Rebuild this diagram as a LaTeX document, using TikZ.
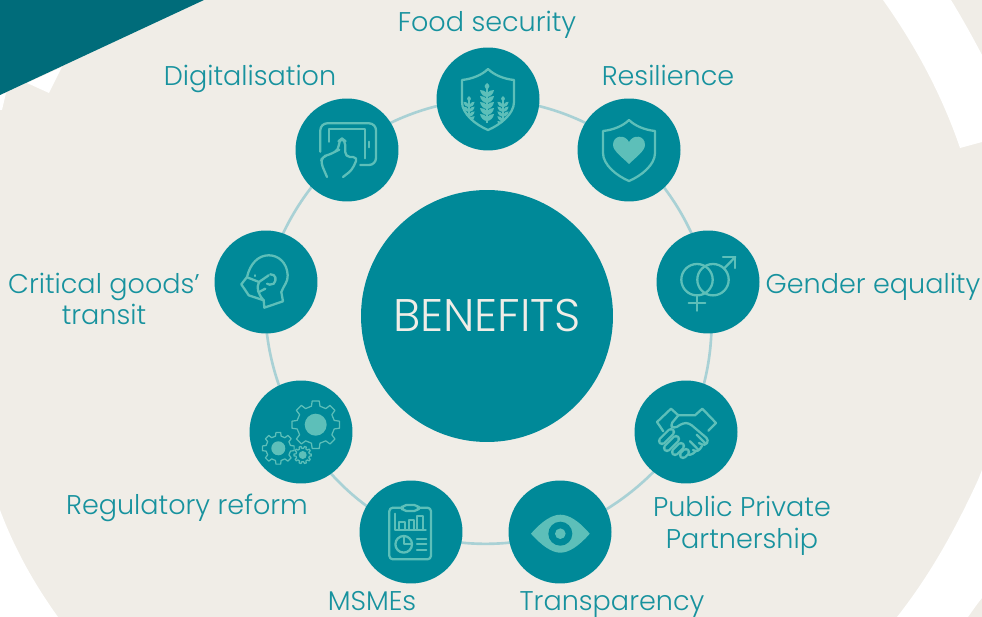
\documentclass[tikz,border=0pt]{standalone}
\usepackage{fontspec}
\setmainfont{Poppins Light}
\usepackage{xcolor}
\usetikzlibrary{backgrounds}
\definecolor{sandbg}{HTML}{F0EDE7}
\definecolor{darkteal}{HTML}{006C7A}
\definecolor{circteal}{HTML}{008998}
\definecolor{iconteal}{HTML}{5DBFB9}
\definecolor{ringteal}{HTML}{A9D1D5}
\definecolor{textteal}{HTML}{17929E}
\tikzset{
  topic/.style={circle,fill=circteal,minimum size=2.06cm,inner sep=0pt},
  hubnode/.style={circle,fill=circteal,minimum size=5.04cm,inner sep=0pt,text=sandbg,font=\fontsize{26}{30}\selectfont},
  tag/.style={text=textteal,align=center,inner sep=0pt,anchor=base,font=\fontsize{15.4}{18.2}\selectfont},
  ringline/.style={draw=ringteal,line width=1.5pt,bend left=18,looseness=.88},
  iconline/.style={draw=iconteal,line width=1.3pt,line join=round,line cap=round},
  gearline/.style={draw=iconteal,line width=.7pt,line join=round},
  wheatear/.pic={
    \draw[iconteal,line width=.6pt] (0,-10) -- (0,24);
    \fill[iconteal] (0,-16) .. controls (3.2,-13) .. (0,-9) .. controls (-3.2,-13) .. (0,-16) -- cycle;
    \foreach \g in {0,...,4}
      \foreach \s in {-1,1}
        \fill[iconteal,shift={(0,\g*6-5)}] (0,3) .. controls (\s*3,3) and (\s*6.5,0) .. (\s*7,-4) .. controls (\s*5,-4) and (\s*1.5,-3.5) .. (0,0) -- cycle;
  }
}
\newcommand{\shieldpath}{(0,-30) .. controls (6,-24) and (16,-20) .. (26,-19) -- (26,3) .. controls (26,15) and (12,26) .. (0,31) .. controls (-12,26) and (-26,15) .. (-26,3) -- (-26,-19) .. controls (-16,-20) and (-6,-24) .. (0,-30) -- cycle}
\newcommand{\gearicon}[6]{
  \draw[gearline,shift={(#1,#2)}] (-#6:#4)
    \foreach \a in {0,#5,...,359} { -- (\a-#6:#4) -- (\a-.65*#6:#3) -- (\a+.65*#6:#3) -- (\a+#6:#4) } -- cycle;
}
\begin{document}
\begin{tikzpicture}[x=0.02cm,y=-0.02cm]
\useasboundingbox (0,0) rectangle (982,617);
% nodes
\node[hubnode] (hub) at (487,316) {BENEFITS};
\node[topic] (food) at (488,99) {};
\node[topic] (resilience) at (629,150) {};
\node[topic] (gender) at (708,282) {};
\node[topic] (partner) at (686,432) {};
\node[topic] (transparency) at (560,532) {};
\node[topic] (msme) at (411,532) {};
\node[topic] (regulatory) at (301,432) {};
\node[topic] (critical) at (266,282) {};
\node[topic] (digital) at (347,150) {};
\begin{scope}[on background layer]
\fill[sandbg] (0,0) rectangle (982,617);
% white bands
\fill[white] (883,0) .. controls (915,45) and (942,95) .. (960,148) -- (982,142) -- (982,55) .. controls (972,36) and (962,18) .. (951,0) -- cycle;
\fill[white] (978,480) .. controls (955,530) and (930,575) .. (897,617) -- (968,617) .. controls (973,610) and (977,604) .. (982,598) -- (982,470) -- cycle;
\fill[white] (0,510) .. controls (15,550) and (35,585) .. (58,617) -- (0,617) -- cycle;
\fill[white] (27,83) -- (49,93) -- (62,67) -- cycle;
\fill[white] (6,93) -- (2,110) -- (0,110) -- (0,95) -- cycle;
\fill[darkteal] (0,0) -- (204,0) -- (0,95) -- cycle;
% ring
\foreach \a/\b in {food/resilience,resilience/gender,gender/partner,partner/transparency,transparency/msme,msme/regulatory,regulatory/critical,critical/digital,digital/food}
  \draw[ringline] (\a.center) to (\b.center);
\end{scope}
% labels
\node[tag] (foodlabel) at (487,31.5) {Food security};
\node[tag] (digitallabel) at (250,85.5) {Digitalisation};
\node[tag] (resiliencelabel) at (668,85.5) {Resilience};
\node[tag] (genderlabel) at (873,293.5) {Gender equality};
\node[tag] (criticallabel) at (104,325) {Critical goods’\\transit};
\node[tag] (partnerlabel) at (742,548) {Public Private\\Partnership};
\node[tag] (regulatorylabel) at (187,514) {Regulatory reform};
\node[tag] (msmelabel) at (372,610) {MSMEs};
\node[tag] (transparencylabel) at (612,610) {Transparency};
% food security
\begin{scope}[shift={(food.center)}]
\begin{scope}
\clip \shieldpath;
\pic at (-1,0) {wheatear};
\pic[scale=.8] at (-19,10) {wheatear};
\pic[scale=.8] at (15,10) {wheatear};
\end{scope}
\draw[iconline] \shieldpath;
\end{scope}
% resilience
\begin{scope}[shift={(resilience.center)}]
\draw[iconline] \shieldpath;
\fill[iconteal] (0,14) .. controls (-6,8) and (-16,1) .. (-16,-5) .. controls (-16,-15) and (-4,-16) .. (0,-8) .. controls (4,-16) and (16,-15) .. (16,-5) .. controls (16,1) and (6,8) .. (0,14) -- cycle;
\end{scope}
% gender equality
\begin{scope}[shift={(gender.center)}]
\draw[iconline] (-11,-2.3) circle (15.7);
\draw[iconline] (5,-2.3) circle (15.7);
\draw[iconline] (-11,13.4) -- (-11,28.7);
\draw[iconline] (-19.3,21.3) -- (-2.7,21.3);
\draw[iconline] (16,-13.5) -- (27.3,-25);
\draw[iconline] (15,-25) -- (27.3,-25) -- (27.3,-14);
\end{scope}
% public private partnership
\begin{scope}[shift={(partner.center)}]
\draw[iconline] (-22.7,-.7) -- (-29,-10) -- (-15,-23.3) -- (-7.7,-16.7) -- (9,-16.7) -- (16.3,-23.3) -- (30,-9) -- (22.3,-1.3);
\draw[iconline,rounded corners=2pt] (-7.7,-16.7) -- (-16,-6.7) -- (-12,-3.3) -- (-3,-9) -- (3,-9) -- (23,8) -- (19,14) -- (13,11);
\draw[iconline] (10.7,2.7) -- (19,11);
\draw[iconline] (4,9.3) -- (12.3,17.7);
\draw[iconline,rounded corners=2pt] (16,14) -- (12,20) -- (7,18);
\draw[iconline,rounded corners=2pt] (10,19) -- (4,24) -- (-1,21);
\foreach \p/\q/\r in {-24/9/9,-19/16/9,-11/20/6,-3/23/3}
  \draw[iconline,double=circteal,double distance=2.2pt] (\p,\q) -- (\p+\r,\q-\r);
\end{scope}
% transparency
\begin{scope}[shift={(transparency.center)}]
\fill[iconteal] (-29,1.7) .. controls (-18,-11) and (-8,-17.3) .. (.3,-17.3) .. controls (9,-17.3) and (19,-11) .. (29.7,1.7) .. controls (19,14) and (9,20.7) .. (.3,20.7) .. controls (-8,20.7) and (-18,14) .. (-29,1.7) -- cycle;
\fill[circteal] (.3,1.7) circle (12);
\fill[iconteal] (.3,1.7) circle (5.3);
\end{scope}
% msmes
\begin{scope}[shift={(msme.center)}]
\draw[iconline,rounded corners=2pt] (-21.7,-24.3) rectangle (20,27.3);
\draw[iconline,fill=circteal,rounded corners=2.5pt] (-9,-27) rectangle (7.7,-21);
\draw[iconline] (-16.3,-18.3) -- (-16.3,-1.7) -- (14.7,-1.7);
\draw[iconline] (-12.3,-2) -- (-12.3,-10) -- (-5.7,-10) -- (-5.7,-2);
\draw[iconline] (-2.3,-2) -- (-2.3,-12.3) -- (2.7,-12.3) -- (2.7,-2);
\draw[iconline] (6,-2) -- (6,-15.7) -- (12,-15.7) -- (12,-2);
\draw[iconline] (-7.3,12.3) circle (8.3);
\draw[iconline] (-7.3,4) -- (-7.3,12.3) -- (1,12.3);
\foreach \q in {6.7,12.3,17.7}
  \draw[iconline] (6,\q) -- (15.3,\q);
\end{scope}
% regulatory reform
\begin{scope}[shift={(regulatory.center)}]
\gearicon{14.7}{-7.3}{24}{19}{45}{13}
\fill[iconteal] (14.7,-7.3) circle (11);
\gearicon{-22.7}{16.3}{16}{12.5}{45}{13}
\fill[iconteal] (-22.7,16.3) circle (7);
\gearicon{1.7}{23}{8.7}{6.8}{36}{10}
\fill[iconteal] (1.7,23) circle (4);
\end{scope}
% critical goods
\begin{scope}[shift={(critical.center)}]
\draw[iconline] (-1.7,25.7) -- (17,19.3) -- (15.3,10) .. controls (18,3) and (22,0) .. (21.7,-6.7) .. controls (21,-20) and (12,-26.7) .. (2.7,-26.7) .. controls (-8,-26.7) and (-16,-18) .. (-19,-5) -- (-24.7,2.3) -- (-17.3,13.3) -- (-2.3,18.3) -- cycle;
\draw[iconline] (-19,-4.7) -- (-7,0) -- (2.7,-6.7);
\draw[iconline] (4.3,-7.7) .. controls (10,-8) and (11,-2) .. (7.7,1.7) .. controls (5,3) and (2,3) .. (1,1.7);
\draw[iconline] (-7,0) .. controls (-10,6) and (-8,12) .. (-2.3,18.3);
\draw[iconline] (-7,10) -- (-.7,6.7);
\draw[iconline] (-10.7,-6.7) -- (-10.7,-6);
\end{scope}
% digitalisation
\begin{scope}[shift={(digital.center)}]
\draw[iconline,rounded corners=4pt] (-26.7,1.7) -- (-26.7,-26.7) -- (29,-26.7) -- (29,15) -- (13.3,15);
\draw[iconline] (-18.3,-8.3) -- (-18.3,-20.7) -- (17.7,-20.7) -- (17.7,8.3);
\draw[iconline] (22.3,-8.3) -- (22.3,-2.7);
\draw[iconline,rounded corners=2.5pt] (-20,27) -- (-26,13) -- (-25,6.7) -- (-18.3,5) -- (-11.7,1.7) -- (-8.3,0) -- (-8.3,-9) -- (-5,-11.5) -- (-1.7,-9) -- (-1.7,6.7) -- (10.7,7.3) -- (5,20) -- (-4,27);
\end{scope}
\end{tikzpicture}
\end{document}
